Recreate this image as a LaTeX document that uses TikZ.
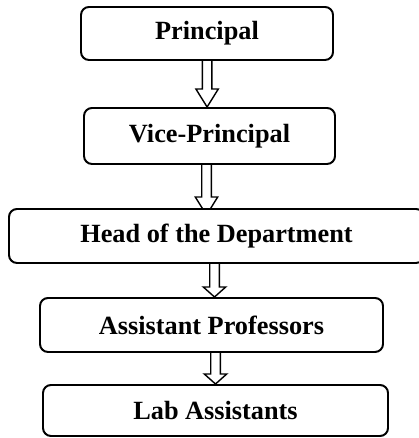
\documentclass[tikz,border=0pt]{standalone}
\usepackage{fontspec}
\setmainfont{Liberation Serif}
\usetikzlibrary{calc, backgrounds}

\newcommand{\headlen}{0.25cm}

\begin{document}
\begin{tikzpicture}[
    box/.style={draw, line width=1.4pt, rounded corners=0.2cm, fill=white,
        inner sep=0pt, font=\fontsize{18.7}{22}\selectfont\bfseries},
    head len/.store in=\headlen,
    blockarrow/.style={draw, line width=1pt, fill=white,
        to path={let \p1=(\tikztostart), \p2=(\tikztotarget) in
            (\x2-0.12cm,\y1) -- (\x2-0.12cm,\y2+\headlen) -- (\x2-0.28cm,\y2+\headlen)
            -- (\x2,\y2) -- (\x2+0.28cm,\y2+\headlen) -- (\x2+0.12cm,\y2+\headlen)
            -- (\x2+0.12cm,\y1)}}
]
    \useasboundingbox (0,0) rectangle (10.45,10.95);

    % Hierarchy
    \node[box, minimum width=6.3cm, minimum height=1.325cm] (prin) at (5.175,10.1125) {Principal};
    \node[box, minimum width=6.275cm, minimum height=1.4cm] (vp) at (5.2375,7.55) {Vice-Principal};
    \node[box, minimum width=10.375cm, minimum height=1.35cm] (hod) at (5.4125,5.05) {Head of the Department};
    \node[box, minimum width=8.575cm, minimum height=1.35cm] (ap) at (5.2875,2.825) {Assistant Professors};
    \node[box, minimum width=8.625cm, minimum height=1.275cm] (lab) at (5.3875,0.6875) {Lab Assistants};

    % Arrows (behind the boxes)
    \begin{scope}[on background layer]
        \draw[blockarrow, head len=0.45cm] (prin.south) to ([xshift=-0.06cm]vp.north);
        \draw[blockarrow, head len=0.45cm] (vp.south) to ([xshift=-0.25cm, yshift=-0.175cm]hod.north);
        \draw[blockarrow] (hod.south) to ([xshift=0.075cm]ap.north);
        \draw[blockarrow] (ap.south) to (lab.north);
    \end{scope}
\end{tikzpicture}
\end{document}
